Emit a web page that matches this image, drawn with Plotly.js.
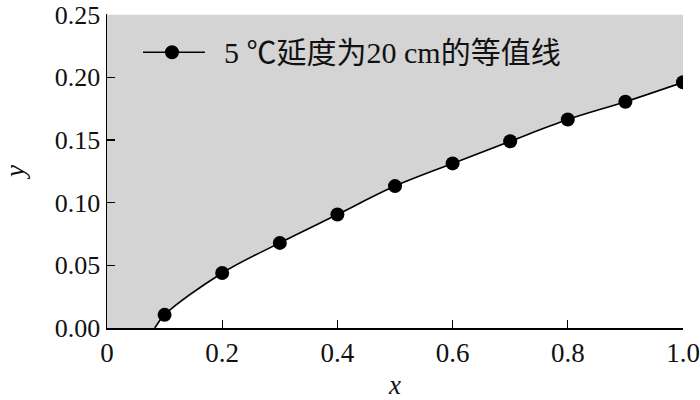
<!DOCTYPE html>
<html><head><meta charset="utf-8">
<script src="https://cdn.plot.ly/plotly-3.0.1.min.js"></script>
<style>body{margin:0;background:#fff}#c{width:700px;height:400px}</style>
</head><body><div id="c"></div>
<script>
// data
const curveX = [0.083, 0.1, 0.2, 0.3, 0.4, 0.5, 0.6, 0.7, 0.8, 0.9, 1.0];
const curveY = [0.0, 0.0105, 0.0439, 0.0679, 0.0905, 0.1132, 0.1313, 0.149, 0.1663, 0.1805, 0.196];
const markerX = [0.1, 0.2, 0.3, 0.4, 0.5, 0.6, 0.7, 0.8, 0.9, 1.0];
const markerY = [0.0105, 0.0439, 0.0679, 0.0905, 0.1132, 0.1313, 0.149, 0.1663, 0.1805, 0.196];
const xMin = 0, xMax = 1.0, yMin = 0, yMax = 0.25;
const xTickVals = [0, 0.2, 0.4, 0.6, 0.8, 1.0];
const xTickText = ['0', '0.2', '0.4', '0.6', '0.8', '1.0'];
const yTickVals = [0, 0.05, 0.10, 0.15, 0.20, 0.25];
const yTickText = ['0.00', '0.05', '0.10', '0.15', '0.20', '0.25'];
const seriesName = '5 ℃延度为20 cm的等值线';

const fillX = [xMin].concat(curveX, [xMax, xMin]);
const fillY = [yMin].concat(curveY, [yMax, yMax]);

const font = 'Liberation Serif, Times New Roman, Noto Sans CJK SC, serif';

const traces = [
  {x: fillX, y: fillY, type: 'scatter', mode: 'lines', fill: 'toself',
   fillcolor: '#d4d4d4', line: {width: 0, color: '#d4d4d4'}, showlegend: false, hoverinfo: 'skip'},
  {x: curveX, y: curveY, type: 'scatter', mode: 'lines', line: {color: '#000', width: 1.6, shape: 'spline'},
   showlegend: false},
  {x: markerX, y: markerY, type: 'scatter', mode: 'markers', name: seriesName,
   marker: {color: '#000', size: 14, symbol: 'circle'}, showlegend: false}
];

// legend box (drawn manually to match the long sample line of the reference)
const legY = 0.878;
const shapes = [
  {type: 'line', xref: 'paper', yref: 'paper', x0: 0.0625, x1: 0.170, y0: legY, y1: legY,
   line: {color: '#000', width: 1.6}},
  {type: 'circle', xref: 'paper', yref: 'paper', xsizemode: 'pixel', ysizemode: 'pixel',
   xanchor: 0.1128, yanchor: legY, x0: -7, x1: 7, y0: -7, y1: 7,
   fillcolor: '#000', line: {color: '#000', width: 0}}
];
const annotations = [
  {text: seriesName, xref: 'paper', yref: 'paper', x: 0.199, y: legY, xanchor: 'left', yanchor: 'middle',
   showarrow: false, font: {family: font, size: 30, color: '#111'}}
];

const layout = {
  width: 700, height: 400,
  margin: {l: 107, r: 17, t: 14, b: 72},
  paper_bgcolor: '#fff', plot_bgcolor: '#fff',
  font: {family: font, color: '#111', size: 27},
  showlegend: false,
  shapes: shapes,
  annotations: annotations,
  xaxis: {range: [xMin, xMax], tickvals: xTickVals, ticktext: xTickText,
          ticks: 'inside', ticklen: 8, tickwidth: 1.2, tickcolor: '#000',
          showline: true, linecolor: '#000', linewidth: 1.5, showgrid: false, zeroline: false,
          ticklabeloverflow: 'allow',
          tickfont: {family: font, size: 27, color: '#111'},
          title: {text: '<i>x</i>', font: {family: font, size: 27, color: '#111'}, standoff: 18}},
  yaxis: {range: [yMin, yMax + 0.0005], tickvals: yTickVals, ticktext: yTickText,
          ticks: 'inside', ticklen: 8, tickwidth: 1.2, tickcolor: '#000',
          showline: true, linecolor: '#000', linewidth: 1.5, showgrid: false, zeroline: false,
          ticklabeloverflow: 'allow',
          tickfont: {family: font, size: 26, color: '#111'},
          title: {text: '<i>y</i>', font: {family: font, size: 27, color: '#111'}, standoff: 34}}
};

Plotly.newPlot('c', traces, layout, {displayModeBar: false, staticPlot: true});
</script></body></html>
